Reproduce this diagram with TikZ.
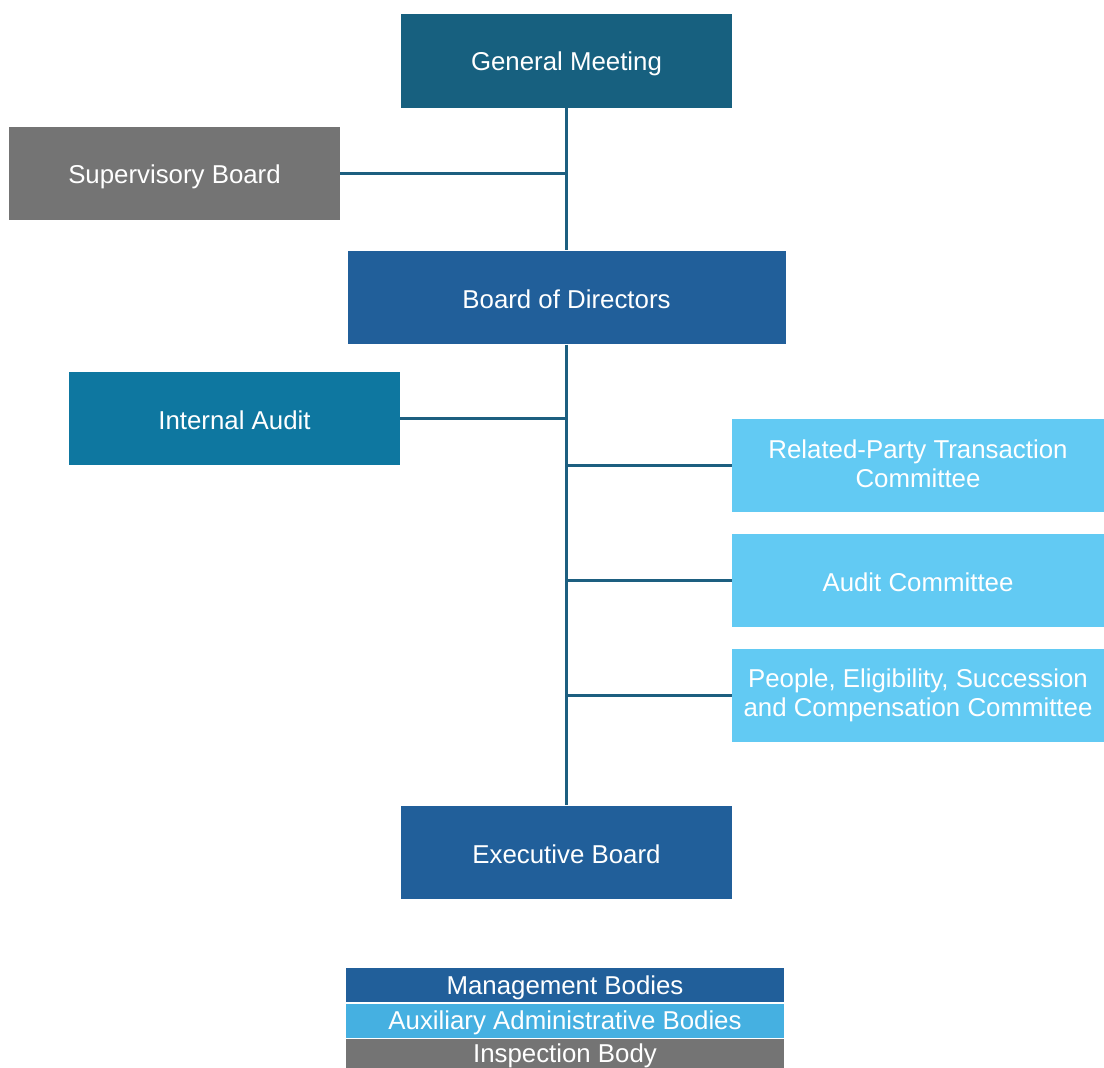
\documentclass[tikz,border=0pt]{standalone}
\usepackage{fontspec}
\setmainfont{Liberation Sans}
\usepackage{tikz}
\usetikzlibrary{positioning,calc}
\definecolor{gmteal}{HTML}{17607F}
\definecolor{mgmt}{HTML}{215F9A}
\definecolor{audit}{HTML}{0E77A0}
\definecolor{cmte}{HTML}{62CAF3}
\definecolor{auxil}{HTML}{45B0E1}
\definecolor{insp}{HTML}{747474}
\definecolor{link}{HTML}{1D5F80}

\begin{document}
\begin{tikzpicture}[font=\fontsize{14.7}{16.4}\selectfont,
  body/.style={fill=#1, text=white, align=center, inner sep=2pt,
               execute at begin node={\rule{0pt}{14.4pt}},
               execute at end node={\rule[-2pt]{0pt}{0pt}},
               minimum width=66.2mm, minimum height=18.7mm},
  wide/.style={minimum width=87.6mm},
  side/.style={minimum width=74.4mm, minimum height=18.6mm},
  twoline/.style={execute at begin node={\rule{0pt}{21.2pt}}},
  key/.style={fill=#1, text=white, minimum width=87.6mm, minimum height=6.8mm,
              inner sep=0pt, text depth=-2pt},
  wire/.style={draw=link, line width=1.7pt}]
  \useasboundingbox (0,0) rectangle (22.08,-21.36);
  % --- governing bodies on the trunk
  \node[body=gmteal]     (gm)   at (11.33,-1.22)  {General Meeting};
  \node[body=mgmt, wide] (bod)  at (11.33,-5.95)  {Board of Directors};
  \node[body=mgmt]       (eb)   at (11.33,-17.05) {Executive Board};
  % --- left branches
  \node[body=insp]       (sup)  at (3.49,-3.47)   {Supervisory Board};
  \node[body=audit]      (ia)   at (4.69,-8.37)   {Internal Audit};
  % --- committees (right)
  \node[body=cmte, side, twoline] (rpt)  at (18.36,-9.31)  {Related-Party Transaction\\Committee};
  \node[body=cmte, side]          (ac)   at (18.36,-11.61) {Audit Committee};
  \node[body=cmte, side, twoline] (pesc) at (18.36,-13.91) {People, Eligibility, Succession\\and Compensation Committee};
  % --- legend
  \node[key=mgmt]  (kmgmt) at (11.30,-19.70) {Management Bodies};
  \node[key=auxil] (kaux)  at (11.30,-20.41) {Auxiliary Administrative Bodies};
  \node[key=insp, text depth=3pt] (kinsp) at (11.30,-21.12) {Inspection Body};
  % --- connectors
  \draw[wire] (gm.south) -- (bod.north);
  \draw[wire] (bod.south) -- (eb.north);
  \draw[wire] (sup.east) -- (sup.east -| gm.south);
  \draw[wire] (ia.east)  -- (ia.east -| gm.south);
  \draw[wire] (rpt.west) -- (rpt.west -| gm.south);
  \draw[wire] (ac.west)  -- (ac.west -| gm.south);
  \draw[wire] (pesc.west) -- (pesc.west -| gm.south);
\end{tikzpicture}
\end{document}
